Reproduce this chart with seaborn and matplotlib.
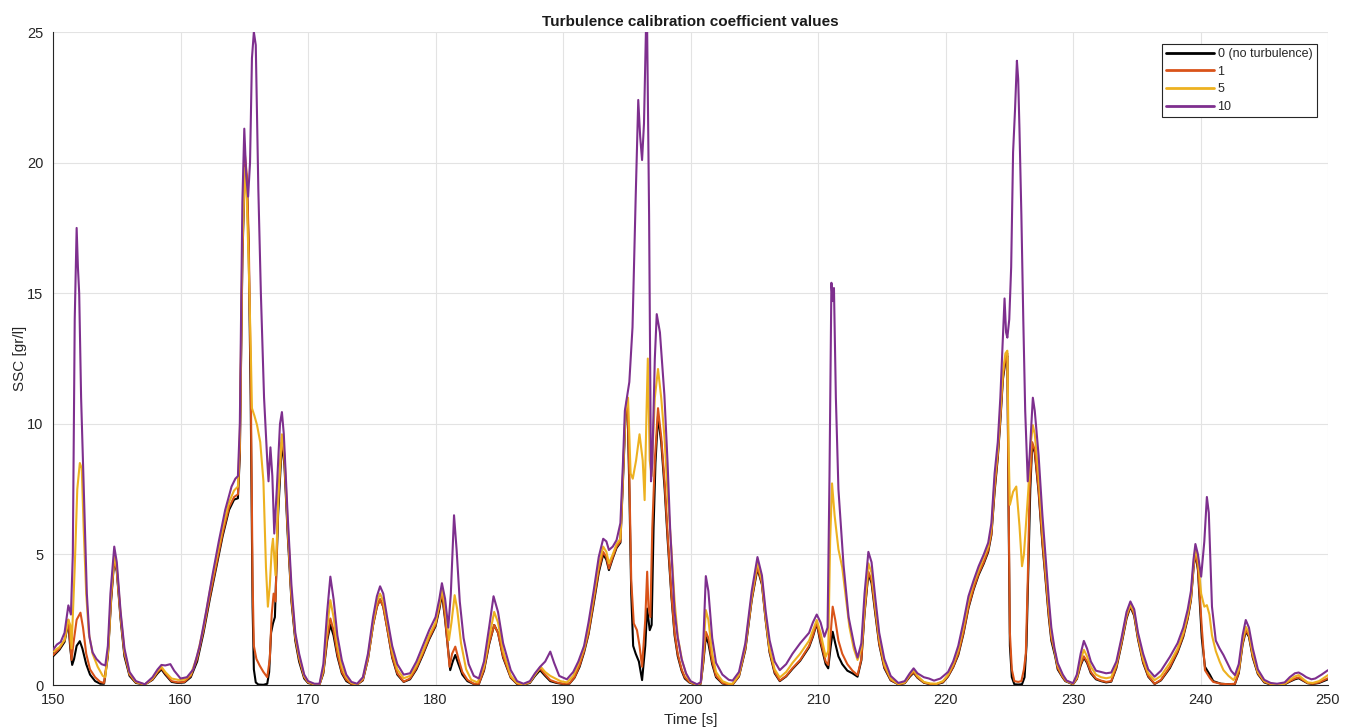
import numpy as np
import pandas as pd
import matplotlib
matplotlib.use("Agg")
import matplotlib.pyplot as plt
import seaborn as sns

# ---- SSC time series for each turbulence calibration coefficient ----
t_c10 = [150.0, 150.3, 150.6, 150.9, 151.2, 151.4, 151.55, 151.7, 151.85, 151.95, 152.05, 152.2, 152.45, 152.65,
         152.85, 153.1, 153.4, 153.8, 154.1, 154.3, 154.5, 154.8, 155.0, 155.3, 155.6, 156.0, 156.5, 157.2,
         157.8, 158.2, 158.5, 158.8, 159.2, 159.5, 160.0, 160.5, 161.0, 161.5, 162.0, 162.5, 163.0, 163.5,
         164.0, 164.3, 164.5, 164.65, 164.85, 165.0, 165.15, 165.3, 165.45, 165.6, 165.75, 165.9, 166.1, 166.3,
         166.55, 166.8, 166.9, 167.05, 167.2, 167.35, 167.55, 167.8, 167.95, 168.1, 168.4, 168.7, 169.0, 169.3,
         169.7, 170.0, 170.5, 170.9, 171.2, 171.5, 171.75, 172.0, 172.3, 172.65, 173.0, 173.4, 173.85, 174.3,
         174.7, 175.1, 175.4, 175.65, 175.9, 176.2, 176.6, 177.0, 177.5, 178.0, 178.5, 179.0, 179.5, 180.0,
         180.3, 180.5, 180.75, 181.0, 181.2, 181.45, 181.65, 181.9, 182.2, 182.6, 183.0, 183.4, 183.8, 184.2,
         184.55, 184.9, 185.3, 185.9, 186.4, 186.9, 187.4, 187.8, 188.2, 188.6, 189.0, 189.3, 189.7, 190.3,
         190.8, 191.2, 191.65, 192.0, 192.4, 192.8, 193.15, 193.4, 193.6, 193.9, 194.2, 194.5, 194.7, 194.85,
         195.2, 195.45, 195.7, 195.9, 196.05, 196.2, 196.35, 196.5, 196.6, 196.75, 196.9, 197.0, 197.2, 197.35,
         197.6, 197.95, 198.2, 198.4, 198.75, 199.0, 199.3, 199.65, 200.0, 200.5, 200.8, 201.0, 201.2, 201.4,
         201.7, 202.0, 202.5, 203.0, 203.3, 203.8, 204.3, 204.8, 205.25, 205.6, 205.9, 206.2, 206.6, 207.0,
         207.5, 208.0, 208.6, 209.3, 209.6, 209.9, 210.2, 210.5, 210.75, 210.9, 211.05, 211.15, 211.25, 211.4,
         211.6, 212.0, 212.4, 212.85, 213.1, 213.4, 213.65, 213.95, 214.2, 214.5, 214.8, 215.2, 215.7, 216.3,
         216.8, 217.2, 217.5, 217.8, 218.3, 218.7, 219.1, 219.6, 220.2, 220.6, 221.0, 221.4, 221.8, 222.2,
         222.6, 223.0, 223.35, 223.6, 223.85, 224.1, 224.3, 224.5, 224.63, 224.75, 224.85, 225.0, 225.15, 225.3,
         225.45, 225.6, 225.7, 225.8, 225.95, 226.1, 226.25, 226.45, 226.6, 226.85, 227.0, 227.3, 227.6, 227.8,
         228.1, 228.3, 228.55, 228.8, 229.2, 229.5, 230.0, 230.3, 230.6, 230.85, 231.1, 231.4, 231.8, 232.2,
         232.6, 233.0, 233.4, 233.8, 234.2, 234.5, 234.8, 235.1, 235.5, 235.9, 236.4, 236.9, 237.6, 238.2,
         238.65, 239.0, 239.25, 239.45, 239.6, 239.8, 240.05, 240.3, 240.5, 240.65, 240.9, 241.2, 241.5, 241.8,
         242.2, 242.4, 242.7, 243.0, 243.3, 243.55, 243.8, 244.1, 244.5, 245.0, 245.5, 246.0, 246.6, 247.0,
         247.4, 247.7, 248.0, 248.3, 248.7, 249.0, 249.5, 250.0]
ssc_c10 = [1.35, 1.55, 1.65, 2.0, 3.05, 2.7, 5.0, 14.0, 17.5, 16.0, 15.0, 11.0, 6.9, 3.5,
           1.85, 1.25, 1.0, 0.8, 0.75, 1.5, 3.5, 5.3, 4.7, 2.8, 1.4, 0.5, 0.15, 0.03,
           0.3, 0.6, 0.77, 0.75, 0.8, 0.55, 0.25, 0.3, 0.6, 1.5, 2.8, 4.2, 5.5, 6.7,
           7.6, 7.9, 8.0, 10.0, 18.5, 21.3, 19.5, 18.7, 20.0, 24.0, 25.0, 24.5, 19.0, 15.0,
           11.0, 8.6, 7.8, 9.1, 8.0, 5.8, 7.5, 10.0, 10.45, 9.6, 6.5, 3.8, 2.0, 1.2,
           0.4, 0.15, 0.05, 0.05, 0.8, 2.8, 4.15, 3.3, 1.9, 0.95, 0.4, 0.12, 0.05, 0.3,
           1.2, 2.6, 3.4, 3.78, 3.5, 2.6, 1.5, 0.8, 0.4, 0.45, 0.9, 1.5, 2.1, 2.6,
           3.3, 3.9, 3.3, 2.2, 3.5, 6.5, 5.2, 3.2, 1.8, 0.8, 0.35, 0.25, 0.9, 2.2,
           3.4, 2.8, 1.6, 0.57, 0.15, 0.05, 0.15, 0.45, 0.7, 0.9, 1.28, 0.85, 0.35, 0.22,
           0.5, 0.9, 1.5, 2.4, 3.6, 4.9, 5.6, 5.5, 5.17, 5.3, 5.55, 6.2, 8.5, 10.5,
           11.6, 13.7, 18.7, 22.4, 21.0, 20.1, 21.5, 25.0, 25.0, 18.0, 7.8, 8.5, 12.5, 14.2,
           13.5, 11.1, 8.5, 6.0, 2.8, 1.8, 1.0, 0.45, 0.15, 0.03, 0.1, 1.6, 4.17, 3.6,
           1.8, 0.85, 0.4, 0.2, 0.17, 0.5, 1.6, 3.6, 4.9, 4.2, 2.8, 1.72, 0.9, 0.57,
           0.8, 1.2, 1.6, 2.0, 2.4, 2.7, 2.4, 1.85, 2.2, 8.0, 15.4, 14.7, 15.2, 11.0,
           7.5, 4.6, 2.6, 1.5, 1.05, 1.6, 3.5, 5.1, 4.7, 3.3, 2.0, 1.0, 0.35, 0.08,
           0.15, 0.45, 0.64, 0.45, 0.3, 0.25, 0.17, 0.25, 0.5, 0.9, 1.5, 2.4, 3.4, 4.0,
           4.55, 5.0, 5.45, 6.2, 8.1, 9.3, 11.0, 13.3, 14.8, 13.5, 13.3, 14.0, 16.0, 20.4,
           22.0, 23.9, 23.2, 21.3, 18.0, 14.0, 10.5, 7.8, 8.8, 11.0, 10.5, 8.8, 6.5, 5.2,
           3.3, 2.2, 1.4, 0.84, 0.4, 0.17, 0.07, 0.4, 1.2, 1.69, 1.4, 0.9, 0.55, 0.5,
           0.45, 0.48, 0.9, 1.8, 2.8, 3.2, 2.9, 2.0, 1.2, 0.6, 0.32, 0.55, 1.08, 1.6,
           2.2, 2.9, 3.6, 4.8, 5.4, 5.0, 4.15, 5.5, 7.2, 6.6, 3.0, 1.7, 1.4, 1.15,
           0.75, 0.55, 0.38, 0.8, 1.9, 2.49, 2.2, 1.4, 0.6, 0.2, 0.08, 0.05, 0.1, 0.3,
           0.45, 0.48, 0.4, 0.3, 0.22, 0.25, 0.4, 0.57]

t_c5 = [150.0, 150.5, 150.9, 151.2, 151.35, 151.45, 151.7, 151.9, 152.1, 152.25, 152.4, 152.6, 152.8, 153.1,
        153.5, 153.9, 154.1, 154.35, 154.55, 154.8, 155.0, 155.3, 155.6, 156.0, 156.5, 157.2, 157.8, 158.2,
        158.5, 158.8, 159.3, 159.8, 160.3, 160.8, 161.3, 161.8, 162.3, 162.8, 163.3, 163.8, 164.2, 164.5,
        164.65, 164.85, 165.05, 165.2, 165.35, 165.5, 165.6, 165.8, 166.0, 166.25, 166.5, 166.7, 166.85, 167.0,
        167.15, 167.25, 167.45, 167.7, 167.95, 168.15, 168.4, 168.7, 169.0, 169.3, 169.7, 170.0, 170.5, 170.9,
        171.2, 171.5, 171.75, 172.0, 172.3, 172.65, 173.0, 173.4, 173.85, 174.3, 174.7, 175.1, 175.4, 175.65,
        175.9, 176.2, 176.6, 177.0, 177.5, 178.0, 178.5, 179.0, 179.5, 180.0, 180.3, 180.5, 180.75, 181.05,
        181.25, 181.5, 181.7, 182.0, 182.4, 182.8, 183.3, 183.8, 184.2, 184.6, 184.9, 185.3, 185.9, 186.4,
        186.9, 187.4, 187.8, 188.25, 188.6, 189.0, 189.4, 189.8, 190.3, 190.8, 191.2, 191.65, 192.0, 192.4,
        192.8, 193.15, 193.4, 193.6, 193.9, 194.2, 194.5, 194.7, 194.9, 195.1, 195.3, 195.47, 195.73, 196.0,
        196.25, 196.4, 196.55, 196.65, 196.8, 196.95, 197.2, 197.45, 197.7, 197.97, 198.2, 198.5, 198.75, 199.0,
        199.35, 199.7, 200.0, 200.5, 200.8, 201.0, 201.2, 201.4, 201.7, 202.0, 202.5, 203.0, 203.3, 203.8,
        204.3, 204.8, 205.25, 205.6, 205.9, 206.2, 206.6, 207.0, 207.5, 208.0, 208.6, 209.3, 209.6, 209.9,
        210.2, 210.6, 210.8, 210.95, 211.1, 211.3, 211.6, 211.9, 212.2, 212.46, 212.8, 213.1, 213.4, 213.65,
        213.95, 214.2, 214.5, 214.8, 215.2, 215.7, 216.3, 216.8, 217.2, 217.5, 217.8, 218.3, 218.8, 219.3,
        219.8, 220.2, 220.6, 221.0, 221.4, 221.8, 222.2, 222.6, 223.0, 223.35, 223.6, 223.85, 224.1, 224.3,
        224.5, 224.7, 224.85, 224.95, 225.05, 225.3, 225.55, 225.8, 226.0, 226.15, 226.3, 226.5, 226.7, 226.85,
        227.0, 227.3, 227.6, 227.8, 228.1, 228.3, 228.6, 228.8, 229.2, 229.5, 230.0, 230.3, 230.6, 230.85,
        231.1, 231.4, 231.8, 232.2, 232.6, 233.0, 233.4, 233.8, 234.2, 234.5, 234.8, 235.1, 235.5, 235.9,
        236.4, 236.9, 237.6, 238.2, 238.65, 239.0, 239.25, 239.45, 239.6, 239.8, 240.05, 240.3, 240.5, 240.7,
        240.9, 241.2, 241.5, 241.8, 242.2, 242.6, 243.0, 243.3, 243.55, 243.8, 244.1, 244.5, 245.0, 245.5,
        246.0, 246.6, 247.0, 247.4, 247.7, 248.0, 248.4, 248.8, 249.3, 250.0]
ssc_c5 = [1.28, 1.45, 1.72, 2.5, 2.3, 1.4, 4.5, 7.5, 8.5, 8.3, 6.0, 3.5, 2.0, 1.2,
          0.7, 0.35, 0.3, 1.5, 3.5, 4.95, 4.5, 2.7, 1.3, 0.45, 0.12, 0.02, 0.25, 0.55,
          0.7, 0.5, 0.25, 0.2, 0.2, 0.4, 1.1, 2.2, 3.6, 4.8, 6.0, 7.0, 7.45, 7.6,
          9.5, 17.0, 19.8, 18.5, 16.0, 13.0, 10.6, 10.3, 9.95, 9.3, 7.8, 4.5, 3.0, 3.8,
          5.2, 5.6, 4.2, 7.5, 9.6, 8.8, 6.2, 3.5, 1.9, 1.1, 0.35, 0.12, 0.03, 0.03,
          0.6, 2.2, 3.25, 2.6, 1.5, 0.7, 0.3, 0.08, 0.03, 0.25, 1.1, 2.4, 3.2, 3.5,
          3.2, 2.4, 1.3, 0.6, 0.26, 0.35, 0.75, 1.3, 1.9, 2.4, 3.1, 3.7, 3.0, 1.72,
          2.4, 3.44, 2.9, 1.6, 0.6, 0.2, 0.1, 0.7, 1.8, 2.8, 2.4, 1.3, 0.35, 0.08,
          0.03, 0.12, 0.4, 0.7, 0.5, 0.35, 0.25, 0.15, 0.1, 0.35, 0.8, 1.4, 2.2, 3.4,
          4.6, 5.3, 5.1, 4.66, 5.0, 5.4, 5.6, 8.0, 10.5, 11.0, 8.1, 7.9, 8.6, 9.6,
          8.6, 7.08, 10.5, 12.5, 8.6, 8.0, 11.0, 12.1, 11.0, 9.4, 7.3, 5.2, 3.2, 1.85,
          0.9, 0.34, 0.12, 0.02, 0.08, 1.2, 2.87, 2.5, 1.2, 0.5, 0.15, 0.05, 0.05, 0.4,
          1.5, 3.4, 4.72, 4.0, 2.6, 1.4, 0.6, 0.29, 0.5, 0.85, 1.2, 1.7, 2.1, 2.49,
          2.0, 1.08, 1.3, 5.5, 7.72, 6.5, 5.2, 4.5, 3.3, 2.23, 1.4, 0.96, 1.4, 3.0,
          4.66, 4.3, 3.0, 1.8, 0.8, 0.25, 0.04, 0.1, 0.4, 0.57, 0.35, 0.12, 0.06, 0.05,
          0.15, 0.4, 0.8, 1.35, 2.2, 3.2, 3.9, 4.4, 4.9, 5.3, 6.0, 7.8, 9.0, 10.5,
          12.0, 12.7, 12.8, 9.0, 6.9, 7.4, 7.6, 6.1, 4.55, 5.0, 6.07, 7.5, 9.3, 9.95,
          9.6, 8.0, 6.0, 4.8, 3.0, 2.0, 1.2, 0.75, 0.35, 0.15, 0.05, 0.3, 0.95, 1.35,
          1.1, 0.7, 0.4, 0.3, 0.26, 0.3, 0.8, 1.7, 2.7, 3.1, 2.8, 1.9, 1.0, 0.45,
          0.19, 0.35, 0.85, 1.4, 2.0, 2.7, 3.4, 4.6, 5.2, 4.8, 3.5, 3.0, 3.06, 2.7,
          1.9, 1.3, 0.9, 0.57, 0.35, 0.19, 0.6, 1.7, 2.23, 2.0, 1.2, 0.5, 0.15, 0.05,
          0.03, 0.05, 0.2, 0.33, 0.38, 0.25, 0.1, 0.08, 0.15, 0.38]

t_c1 = [150.0, 150.5, 150.9, 151.2, 151.35, 151.45, 151.6, 151.85, 152.15, 152.35, 152.6, 152.9, 153.3, 153.7,
        154.0, 154.3, 154.55, 154.8, 155.0, 155.3, 155.6, 156.0, 156.5, 157.2, 157.8, 158.2, 158.5, 158.8,
        159.3, 159.8, 160.3, 160.8, 161.3, 161.8, 162.3, 162.8, 163.3, 163.8, 164.2, 164.5, 164.65, 164.85,
        165.05, 165.2, 165.35, 165.5, 165.65, 165.75, 165.95, 166.2, 166.5, 166.8, 167.0, 167.15, 167.3, 167.45,
        167.65, 167.95, 168.15, 168.4, 168.7, 169.0, 169.3, 169.7, 170.0, 170.5, 170.9, 171.2, 171.5, 171.75,
        172.0, 172.3, 172.65, 173.0, 173.4, 173.85, 174.3, 174.7, 175.1, 175.4, 175.65, 175.9, 176.2, 176.6,
        177.0, 177.5, 178.0, 178.5, 179.0, 179.5, 180.0, 180.3, 180.5, 180.75, 181.1, 181.3, 181.55, 181.8,
        182.1, 182.5, 183.0, 183.4, 183.8, 184.2, 184.6, 184.9, 185.3, 185.9, 186.4, 186.9, 187.4, 187.8,
        188.2, 188.6, 189.0, 189.5, 190.0, 190.5, 190.9, 191.3, 191.65, 192.0, 192.4, 192.8, 193.15, 193.4,
        193.6, 193.9, 194.2, 194.5, 194.7, 194.9, 195.05, 195.2, 195.35, 195.55, 195.8, 196.0, 196.2, 196.45,
        196.6, 196.7, 196.85, 197.0, 197.2, 197.45, 197.7, 197.97, 198.2, 198.5, 198.75, 199.0, 199.3, 199.55,
        199.9, 200.4, 200.8, 201.0, 201.2, 201.4, 201.7, 202.0, 202.5, 203.0, 203.3, 203.8, 204.3, 204.8,
        205.25, 205.6, 205.9, 206.2, 206.6, 207.0, 207.5, 208.0, 208.6, 209.3, 209.6, 209.9, 210.2, 210.6,
        210.8, 211.0, 211.15, 211.35, 211.6, 211.9, 212.3, 212.7, 213.1, 213.4, 213.65, 213.95, 214.2, 214.5,
        214.8, 215.2, 215.7, 216.3, 216.8, 217.2, 217.5, 217.8, 218.3, 218.8, 219.3, 219.8, 220.2, 220.6,
        221.0, 221.4, 221.8, 222.2, 222.6, 223.0, 223.35, 223.6, 223.85, 224.1, 224.3, 224.5, 224.7, 224.85,
        224.95, 225.05, 225.2, 225.4, 225.7, 225.95, 226.15, 226.3, 226.45, 226.6, 226.8, 227.0, 227.3, 227.6,
        227.8, 228.1, 228.3, 228.6, 228.8, 229.2, 229.4, 230.0, 230.3, 230.6, 230.85, 231.1, 231.4, 231.8,
        232.2, 232.6, 233.0, 233.4, 233.8, 234.2, 234.5, 234.8, 235.1, 235.5, 235.9, 236.4, 236.9, 237.6,
        238.2, 238.65, 239.0, 239.25, 239.45, 239.6, 239.8, 240.1, 240.35, 240.75, 241.0, 241.6, 242.2, 242.7,
        243.0, 243.3, 243.55, 243.8, 244.1, 244.5, 245.0, 245.5, 246.0, 246.6, 247.0, 247.4, 247.7, 248.0,
        248.4, 248.8, 249.3, 250.0]
ssc_c1 = [1.15, 1.4, 1.72, 2.5, 1.6, 0.96, 1.6, 2.5, 2.77, 2.2, 1.2, 0.6, 0.3, 0.12,
          0.08, 1.2, 3.3, 4.85, 4.4, 2.6, 1.2, 0.4, 0.1, 0.02, 0.22, 0.5, 0.65, 0.45,
          0.15, 0.1, 0.12, 0.35, 1.0, 2.1, 3.4, 4.6, 5.8, 6.8, 7.2, 7.3, 9.0, 16.5,
          20.3, 19.5, 17.0, 12.0, 4.0, 1.5, 1.0, 0.75, 0.5, 0.3, 1.0, 2.7, 3.5, 3.2,
          7.0, 9.5, 8.6, 6.0, 3.3, 1.8, 1.0, 0.3, 0.1, 0.02, 0.02, 0.5, 1.8, 2.55,
          2.1, 1.2, 0.5, 0.2, 0.05, 0.02, 0.2, 1.0, 2.3, 3.0, 3.28, 3.0, 2.2, 1.1,
          0.45, 0.13, 0.25, 0.65, 1.2, 1.8, 2.3, 3.0, 3.6, 2.6, 0.7, 1.2, 1.47, 1.0,
          0.5, 0.2, 0.05, 0.05, 0.6, 1.6, 2.3, 2.0, 1.1, 0.3, 0.05, 0.02, 0.1, 0.4,
          0.64, 0.4, 0.19, 0.1, 0.05, 0.06, 0.3, 0.75, 1.3, 2.0, 3.2, 4.4, 5.1, 4.9,
          4.46, 4.9, 5.3, 5.5, 8.0, 10.5, 11.0, 8.0, 4.0, 2.36, 2.1, 1.5, 0.7, 2.5,
          4.34, 3.0, 2.6, 6.0, 8.6, 10.6, 9.5, 7.76, 5.8, 3.5, 2.0, 1.18, 0.6, 0.3,
          0.12, 0.02, 0.06, 0.9, 2.04, 1.8, 0.9, 0.35, 0.08, 0.02, 0.02, 0.35, 1.4, 3.3,
          4.53, 3.9, 2.5, 1.3, 0.5, 0.17, 0.35, 0.65, 0.96, 1.5, 1.9, 2.42, 1.7, 0.9,
          0.77, 2.0, 3.0, 2.5, 1.7, 1.2, 0.8, 0.55, 0.38, 1.0, 2.8, 4.34, 4.0, 2.8,
          1.6, 0.7, 0.2, 0.03, 0.08, 0.35, 0.5, 0.3, 0.1, 0.04, 0.04, 0.12, 0.35, 0.7,
          1.2, 2.0, 3.0, 3.7, 4.27, 4.7, 5.17, 5.8, 7.5, 8.8, 10.2, 11.8, 12.5, 12.7,
          7.0, 2.0, 0.6, 0.15, 0.12, 0.15, 0.6, 1.2, 4.0, 7.5, 9.3, 9.0, 7.5, 5.5,
          4.4, 2.7, 1.8, 1.2, 0.65, 0.3, 0.17, 0.04, 0.25, 0.8, 1.1, 0.9, 0.5, 0.25,
          0.17, 0.12, 0.15, 0.7, 1.6, 2.6, 3.05, 2.7, 1.8, 0.9, 0.35, 0.05, 0.2, 0.7,
          1.3, 1.9, 2.6, 3.3, 4.5, 5.1, 4.5, 2.2, 0.57, 0.26, 0.12, 0.05, 0.03, 0.05,
          0.5, 1.6, 2.1, 1.9, 1.1, 0.45, 0.12, 0.03, 0.02, 0.04, 0.15, 0.25, 0.29, 0.2,
          0.08, 0.05, 0.1, 0.26]

t_c0 = [150.0, 150.5, 150.9, 151.2, 151.35, 151.5, 151.65, 151.85, 152.1, 152.3, 152.6, 152.9, 153.3, 153.7,
        154.0, 154.3, 154.55, 154.8, 155.0, 155.3, 155.6, 156.0, 156.5, 157.2, 157.8, 158.2, 158.5, 158.8,
        159.3, 159.8, 160.3, 160.8, 161.3, 161.8, 162.3, 162.8, 163.3, 163.8, 164.2, 164.5, 164.65, 164.85,
        165.05, 165.2, 165.35, 165.5, 165.65, 165.75, 165.9, 166.1, 166.5, 166.8, 166.95, 167.1, 167.25, 167.4,
        167.65, 167.95, 168.15, 168.4, 168.7, 169.0, 169.3, 169.7, 170.0, 170.5, 170.9, 171.2, 171.5, 171.75,
        172.0, 172.3, 172.65, 173.0, 173.4, 173.85, 174.3, 174.7, 175.1, 175.4, 175.65, 175.9, 176.2, 176.6,
        177.0, 177.5, 178.0, 178.5, 179.0, 179.5, 180.0, 180.3, 180.5, 180.75, 181.15, 181.35, 181.55, 181.8,
        182.1, 182.5, 183.0, 183.4, 183.8, 184.2, 184.6, 184.9, 185.3, 185.9, 186.4, 186.9, 187.4, 187.8,
        188.2, 188.6, 189.0, 189.5, 190.0, 190.5, 190.9, 191.3, 191.65, 192.0, 192.4, 192.8, 193.15, 193.4,
        193.6, 193.9, 194.2, 194.5, 194.7, 194.9, 195.05, 195.2, 195.35, 195.5, 195.7, 195.95, 196.2, 196.45,
        196.6, 196.8, 196.95, 197.1, 197.25, 197.45, 197.7, 197.97, 198.2, 198.5, 198.75, 199.0, 199.3, 199.55,
        199.9, 200.4, 200.8, 201.0, 201.2, 201.4, 201.7, 202.0, 202.5, 203.0, 203.3, 203.8, 204.3, 204.8,
        205.25, 205.6, 205.9, 206.2, 206.6, 207.0, 207.5, 208.0, 208.6, 209.3, 209.6, 209.9, 210.2, 210.6,
        210.8, 211.0, 211.15, 211.35, 211.6, 211.9, 212.3, 212.7, 213.1, 213.4, 213.65, 213.95, 214.2, 214.5,
        214.8, 215.2, 215.7, 216.3, 216.8, 217.2, 217.5, 217.8, 218.3, 218.8, 219.3, 219.8, 220.2, 220.6,
        221.0, 221.4, 221.8, 222.2, 222.6, 223.0, 223.35, 223.6, 223.85, 224.1, 224.3, 224.5, 224.7, 224.85,
        224.95, 225.05, 225.2, 225.4, 225.7, 226.0, 226.2, 226.35, 226.5, 226.65, 226.8, 227.0, 227.3, 227.6,
        227.8, 228.1, 228.3, 228.6, 228.8, 229.2, 229.4, 230.0, 230.3, 230.6, 230.85, 231.1, 231.4, 231.8,
        232.2, 232.6, 233.0, 233.4, 233.8, 234.2, 234.5, 234.8, 235.1, 235.5, 235.9, 236.4, 236.9, 237.6,
        238.2, 238.65, 239.0, 239.25, 239.45, 239.6, 239.8, 240.1, 240.35, 240.75, 241.0, 241.6, 242.2, 242.7,
        243.0, 243.3, 243.55, 243.8, 244.1, 244.5, 245.0, 245.5, 246.0, 246.6, 247.0, 247.4, 247.7, 248.0,
        248.4, 248.8, 249.3, 250.0]
ssc_c0 = [1.1, 1.35, 1.65, 2.4, 1.4, 0.77, 1.0, 1.5, 1.68, 1.4, 0.8, 0.4, 0.15, 0.05,
          0.05, 1.1, 3.2, 4.8, 4.35, 2.5, 1.1, 0.35, 0.08, 0.02, 0.2, 0.45, 0.6, 0.4,
          0.12, 0.08, 0.1, 0.3, 0.9, 2.0, 3.3, 4.5, 5.7, 6.7, 7.1, 7.15, 8.8, 16.3,
          20.0, 19.3, 16.5, 11.0, 3.0, 0.6, 0.1, 0.02, 0.01, 0.05, 0.5, 2.0, 2.36, 2.6,
          6.5, 9.3, 8.4, 5.8, 3.2, 1.7, 0.9, 0.25, 0.08, 0.02, 0.02, 0.45, 1.7, 2.3,
          1.9, 1.1, 0.45, 0.15, 0.04, 0.02, 0.18, 1.0, 2.3, 3.0, 3.28, 3.0, 2.2, 1.05,
          0.4, 0.12, 0.22, 0.6, 1.15, 1.75, 2.25, 2.9, 3.5, 2.5, 0.57, 0.9, 1.15, 0.8,
          0.4, 0.15, 0.04, 0.04, 0.55, 1.55, 2.3, 2.0, 1.05, 0.28, 0.04, 0.02, 0.08, 0.35,
          0.57, 0.35, 0.15, 0.08, 0.04, 0.05, 0.28, 0.7, 1.25, 1.95, 3.1, 4.3, 5.0, 4.8,
          4.4, 4.85, 5.25, 5.45, 7.8, 10.3, 10.9, 7.5, 3.5, 1.5, 1.2, 0.9, 0.19, 1.5,
          2.93, 2.1, 2.3, 6.0, 8.5, 10.3, 9.3, 7.5, 5.6, 3.4, 1.9, 1.1, 0.55, 0.25,
          0.1, 0.02, 0.05, 0.85, 1.85, 1.6, 0.8, 0.3, 0.06, 0.02, 0.02, 0.33, 1.35, 3.25,
          4.46, 3.85, 2.45, 1.25, 0.45, 0.15, 0.33, 0.62, 0.93, 1.45, 1.85, 2.36, 1.6, 0.8,
          0.64, 1.5, 2.04, 1.6, 1.1, 0.8, 0.55, 0.45, 0.32, 0.95, 2.75, 4.27, 3.9, 2.7,
          1.55, 0.65, 0.18, 0.03, 0.07, 0.32, 0.47, 0.28, 0.09, 0.03, 0.03, 0.1, 0.33, 0.68,
          1.15, 1.95, 2.95, 3.65, 4.22, 4.65, 5.1, 5.75, 7.4, 8.7, 10.1, 11.7, 12.4, 12.6,
          6.5, 1.5, 0.3, 0.03, 0.02, 0.03, 0.3, 1.5, 4.5, 7.5, 9.2, 8.9, 7.4, 5.4,
          4.3, 2.6, 1.7, 1.1, 0.6, 0.28, 0.15, 0.03, 0.23, 0.75, 1.05, 0.85, 0.45, 0.22,
          0.15, 0.1, 0.13, 0.65, 1.55, 2.55, 3.0, 2.65, 1.75, 0.85, 0.32, 0.04, 0.18, 0.65,
          1.25, 1.85, 2.55, 3.25, 4.45, 5.05, 4.4, 1.8, 0.7, 0.38, 0.15, 0.05, 0.03, 0.04,
          0.45, 1.55, 2.05, 1.85, 1.05, 0.42, 0.1, 0.02, 0.02, 0.03, 0.13, 0.22, 0.26, 0.18,
          0.07, 0.04, 0.08, 0.22]

series_labels = ["0 (no turbulence)", "1", "5", "10"]
series_colors = ["#000000", "#D95319", "#EDB120", "#7E2F8E"]

x_ticks = [150, 160, 170, 180, 190, 200, 210, 220, 230, 240, 250]
y_ticks = [0, 5, 10, 15, 20, 25]

# ---- long-form table for seaborn ----
frames = []
for lab, tt, vv in zip(series_labels,
                       [t_c0, t_c1, t_c5, t_c10],
                       [ssc_c0, ssc_c1, ssc_c5, ssc_c10]):
    frames.append(pd.DataFrame({"Time": tt, "SSC": vv, "coef": lab}))
data = pd.concat(frames, ignore_index=True)

sns.set_theme(style="white")
plt.rcParams["font.family"] = ["Liberation Sans", "DejaVu Sans"]

fig = plt.figure(figsize=(13.5, 7.28), dpi=100)
ax = fig.add_axes([0.0393, 0.059, 0.9444, 0.897])

# plotted in coefficient order, so the 10 curve ends up on top
sns.lineplot(data=data, x="Time", y="SSC", hue="coef", hue_order=series_labels,
             palette=series_colors, ax=ax, linewidth=1.5, estimator=None, sort=False,
             zorder=3)

ax.set_xlim(150, 250)
ax.set_ylim(0, 25)
ax.set_xticks(x_ticks)
ax.set_yticks(y_ticks)
ax.tick_params(axis="both", direction="in", length=6, width=0.8, colors="#262626",
               labelsize=10.5, top=False, right=False)
ax.tick_params(axis="x", pad=6)
ax.tick_params(axis="y", pad=7)
ax.grid(True, color="#e3e3e3", linewidth=0.8, zorder=0)
ax.set_axisbelow(True)

for side in ["top", "right"]:
    ax.spines[side].set_visible(False)
for side in ["left", "bottom"]:
    ax.spines[side].set_color("#262626")
    ax.spines[side].set_linewidth(0.8)

ax.set_xlabel("Time [s]", fontsize=11, color="#262626", labelpad=4)
ax.set_ylabel("SSC [gr/l]", fontsize=11, color="#262626", labelpad=0)
ax.set_title("Turbulence calibration coefficient values", fontsize=11, fontweight="bold",
             color="#1a1a1a", pad=4)

leg = ax.legend(loc="upper right", bbox_to_anchor=(0.991, 0.982), borderaxespad=0,
                fontsize=9, handlelength=3.8, handletextpad=0.3, labelspacing=0.45,
                frameon=True, fancybox=False, framealpha=1, borderpad=0.35, title=None)
leg.get_frame().set_edgecolor("#262626")
leg.get_frame().set_linewidth(0.8)
for h in leg.get_lines():
    h.set_linewidth(2.0)

fig.savefig("out.png", dpi=100)
